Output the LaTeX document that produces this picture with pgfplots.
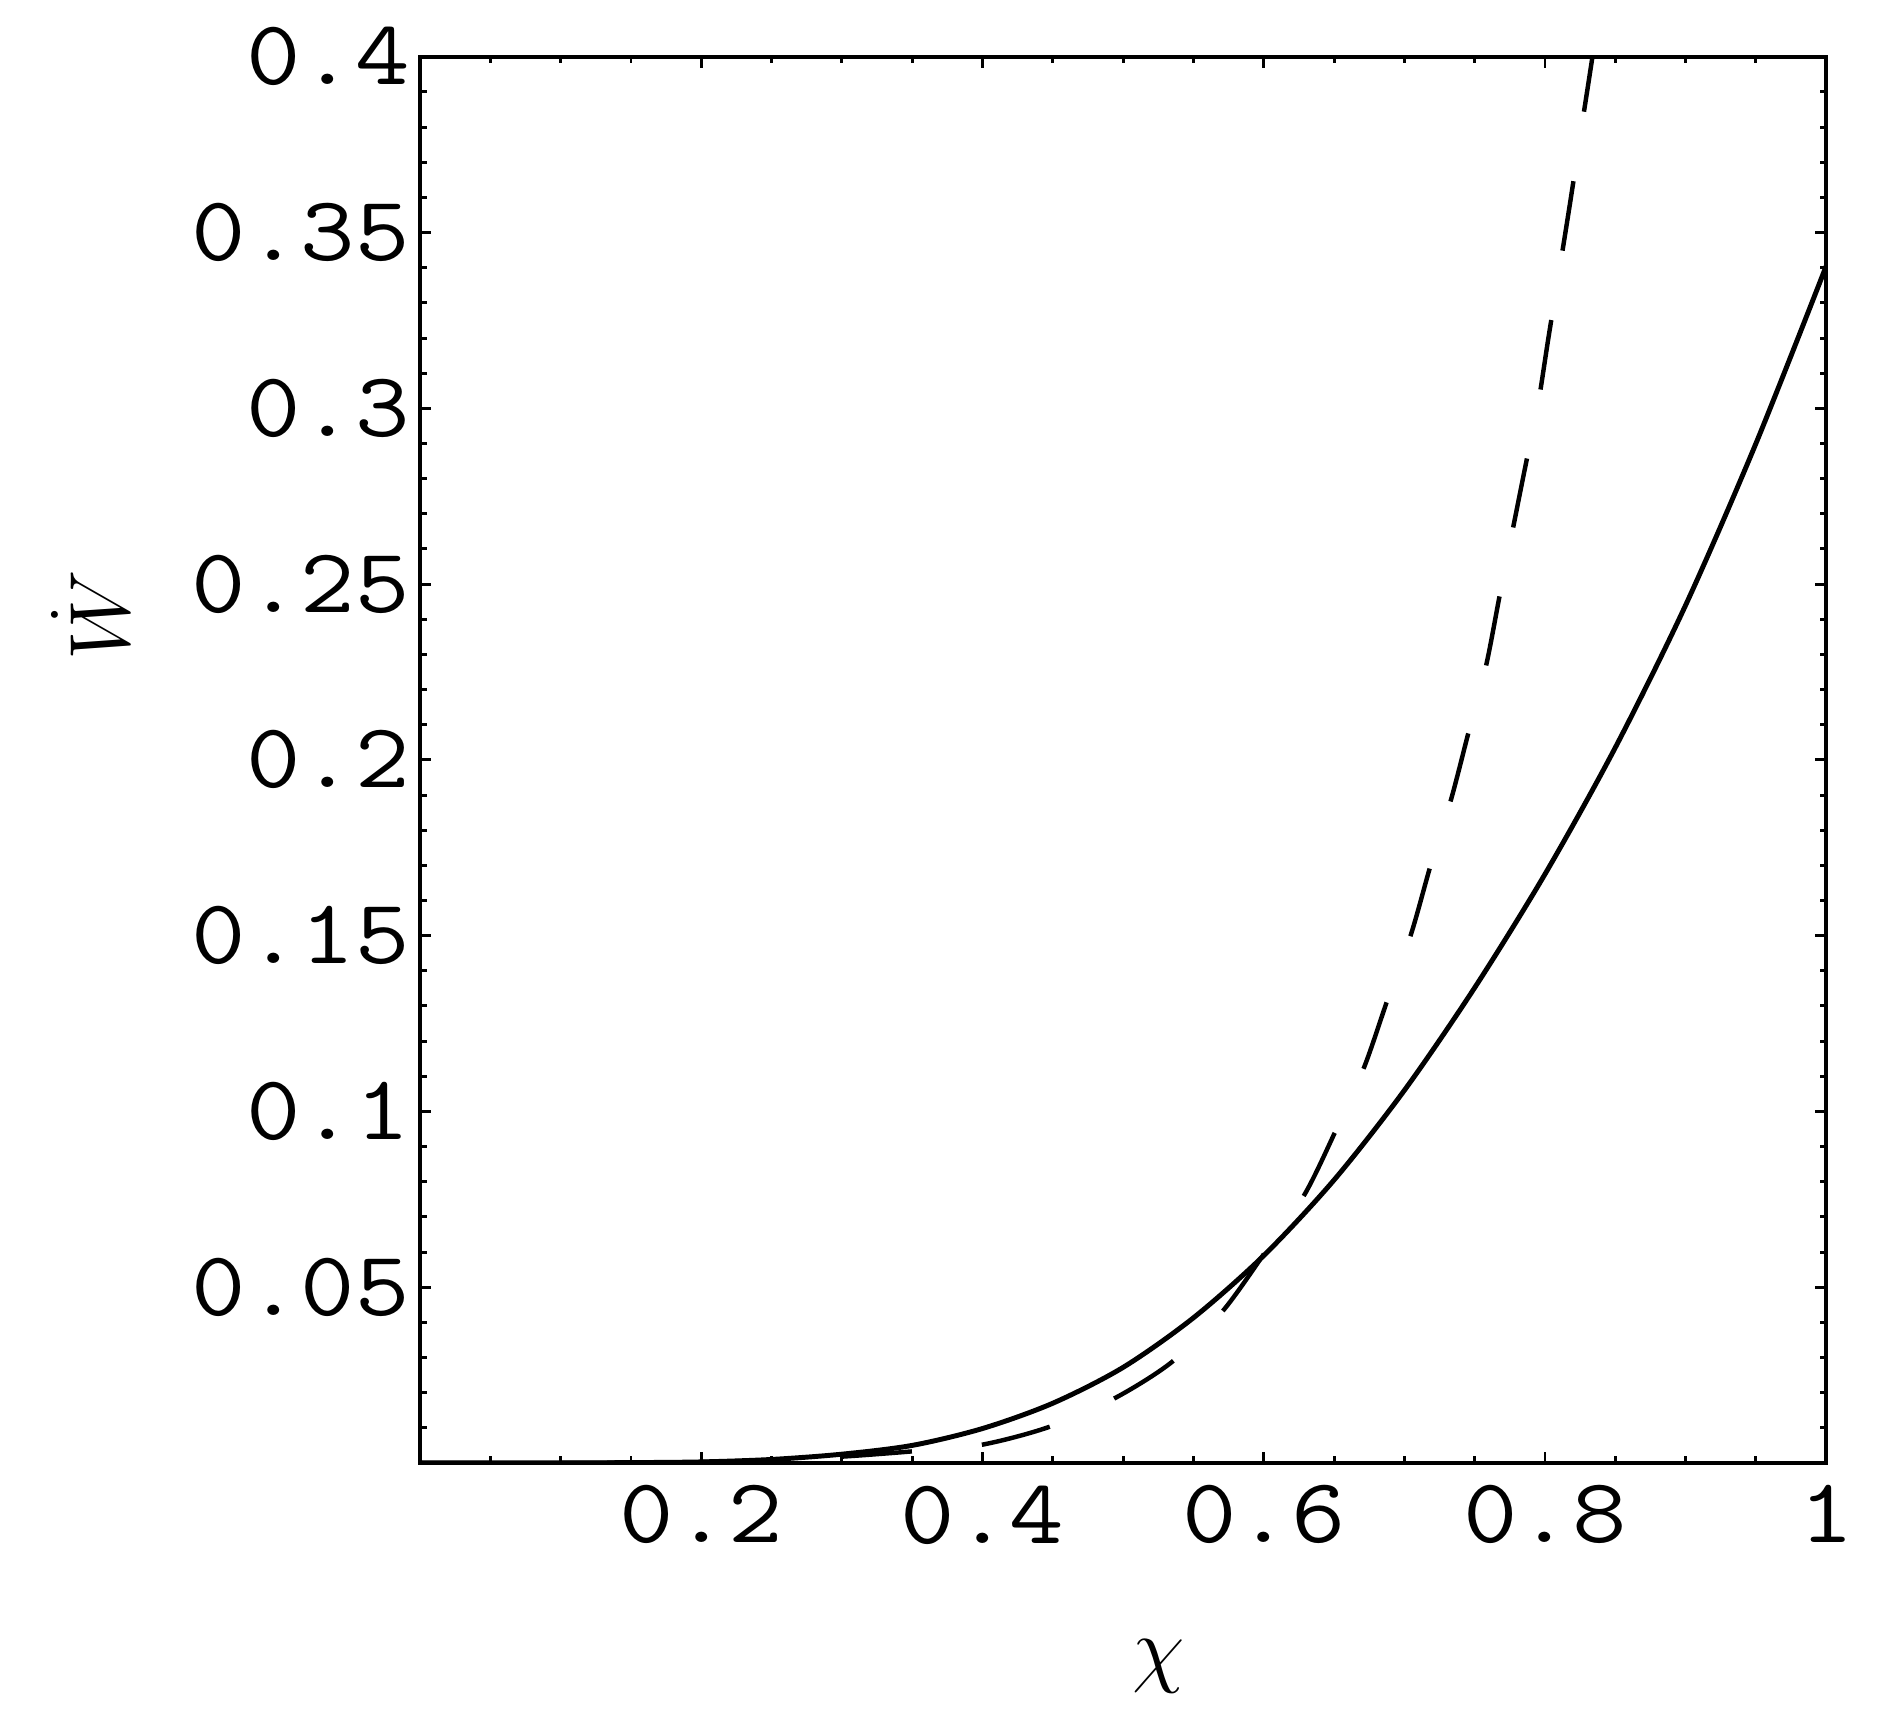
\documentclass[border=0pt]{standalone}
\usepackage{fontspec}
\usepackage{pgfplots}
\pgfplotsset{compat=1.18}
\newfontfamily\monofont[FakeStretch=1.15]{Latin Modern Mono}

\begin{document}
\begin{tikzpicture}
\begin{axis}[
  scale only axis, width=10cm, height=10cm,
  xmin=0, xmax=1, ymin=0, ymax=0.4,
  axis line style={line width=0.8pt},
  tick align=inside,
  major tick length=2.2pt, minor tick length=1.35pt,
  every tick/.style={black, line width=0.6pt},
  xtick={0,0.2,0.4,0.6,0.8,1},
  xticklabels={,0.2,0.4,0.6,0.8,1},
  minor x tick num=3,
  ytick={0,0.05,0.1,0.15,0.2,0.25,0.3,0.35,0.4},
  yticklabels={,0.05,0.1,0.15,0.2,0.25,0.3,0.35,0.4},
  minor y tick num=4,
  ticklabel style={font=\monofont\fontsize{18.6}{20}\selectfont, inner sep=0pt},
  xticklabel style={yshift=-4.4pt},
  yticklabel style={xshift=-1.9pt},
  xlabel={$\chi$}, ylabel={$\dot{W}$},
  label style={font=\fontsize{18}{22}\selectfont},
  xlabel style={at={(rel axis cs:0.525,-0.1445)}, anchor=center},
  ylabel style={at={(rel axis cs:-0.2344,0.603)}, anchor=center},
]
% solid curve
\addplot[black, line width=1pt, smooth] coordinates {
  (0,0) (0.1,0.00002) (0.15,0.0001) (0.2,0.0003) (0.25,0.0010)
  (0.3,0.0025) (0.35,0.0050) (0.4,0.0098) (0.45,0.0170)
  (0.5,0.0272) (0.55,0.0413) (0.6,0.0590) (0.65,0.0805)
  (0.7,0.1060) (0.75,0.1352) (0.8,0.1675) (0.85,0.2035)
  (0.9,0.2440) (0.95,0.2900) (1.0,0.3405)
};
% dashed curve
\addplot[black, line width=0.9pt, smooth, dash pattern=on 5mm off 5mm] coordinates {
  (0,0) (0.1,0.0000) (0.2,0.0003) (0.25,0.0008) (0.3,0.0018)
  (0.35,0.0033) (0.3984,0.0051) (0.447,0.0102) (0.493,0.0182)
  (0.5349,0.0288) (0.5708,0.0432) (0.6016,0.0603) (0.6292,0.0765)
  (0.6508,0.0942) (0.6714,0.1126) (0.6883,0.1321) (0.7048,0.1505)
  (0.7190,0.1705) (0.7331,0.1886) (0.7458,0.2081) (0.7581,0.2268)
  (0.7677,0.2466) (0.7772,0.2658) (0.7871,0.2856) (0.7949,0.3007)
  (0.8025,0.3202) (0.8104,0.3397) (0.8183,0.3596) (0.8258,0.3794)
  (0.8334,0.3991) (0.8380,0.4120)
};
\end{axis}
\pgfresetboundingbox
\path (-85pt,-50.6pt) rectangle (296.83pt,296.03pt);
\end{tikzpicture}
\end{document}
